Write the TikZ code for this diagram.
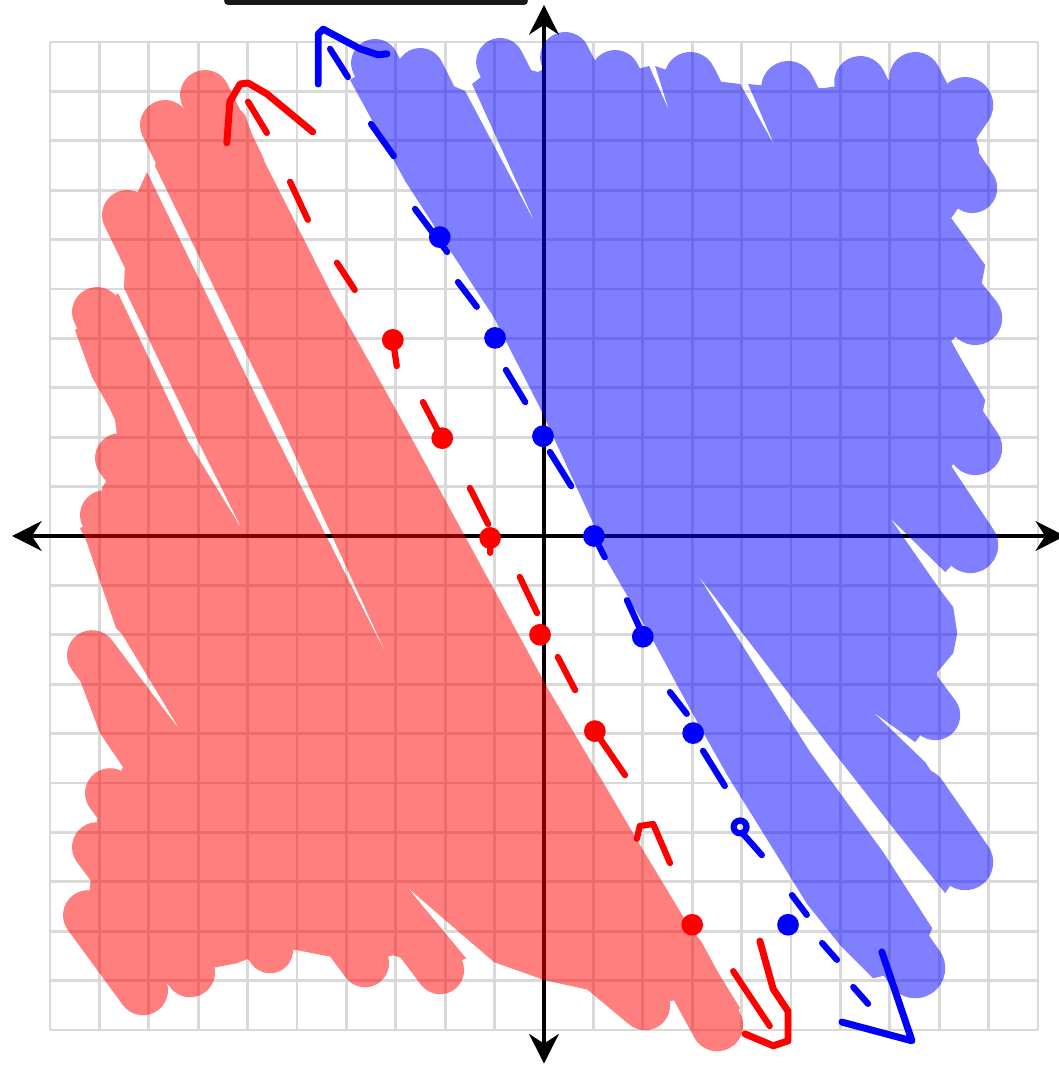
\documentclass[tikz,border=0pt]{standalone}
\usepackage{tikz}
\usetikzlibrary{arrows.meta}
\definecolor{colgrid}{RGB}{217,217,217}
\definecolor{colred}{RGB}{255,0,0}
\definecolor{colblue}{RGB}{0,0,255}
\definecolor{coldark}{RGB}{25,25,25}

\begin{document}
\begin{tikzpicture}[
  gridline/.style={colgrid, line width=1.6pt},
  axis/.style={line width=2.8pt,
               {Stealth[length=17pt, width=17pt]}-{Stealth[length=17pt, width=17pt]}},
  sketch/.style={shift={(-11.012,10.850)}, x=0.020243cm, y=-0.020243cm},
  shade/.style={sketch, transparency group, opacity=0.5},
  marker/.style={line width=#1, line cap=round},
  redpen/.style={colred, line width=3.6pt, line cap=round, line join=round},
  bluepen/.style={colblue, line width=3.6pt, line cap=round, line join=round},
  tipline/.style={line width=4pt}
]
\useasboundingbox (-11.012,-10.709) rectangle (10.425,10.850);

% Grid
\draw[gridline] (-10,-10) grid (10,10);

% Axes
\draw[axis] (-10.77,0) -- (10.55,0);
\draw[axis] (0,-10.68) -- (0,10.75);

% cut off stroke at the top edge
\draw[coldark, line width=0.15cm, line cap=round] (-6.4,10.83) -- (-0.4,10.83);

% Shading below the red line
\begin{scope}[shade]
  \fill[colred] (97,312) -- (118,293) -- (188,441) -- (243,531) -- (196,437)
    -- (124,288) -- (127,215) -- (147,172) -- (270,425) -- (389,660)
    -- (280,423) -- (155,166) -- (165,125) -- (205,95) -- (229,98)
    -- (245,115) -- (255,143) -- (333,297) -- (400,417) -- (547,687)
    -- (640,845) -- (687,923) -- (740,1008) -- (717,1025) -- (675,1000)
    -- (645,1005) -- (610,1000) -- (590,990) -- (545,980) -- (494,962)
    -- (407,887) -- (466,958) -- (440,970) -- (393,955) -- (365,963)
    -- (297,950) -- (270,950) -- (237,963) -- (190,972) -- (143,990)
    -- (88,915) -- (90,885) -- (97,847) -- (97,820) -- (110,793)
    -- (123,767) -- (100,733) -- (80,680) -- (92,655) -- (112,642)
    -- (180,730) -- (122,634) -- (116,628) -- (86,540) -- (80,528)
    -- (105,515) -- (102,488) -- (120,458) -- (115,420) -- (110,409)
    -- (92,377) -- (75,330) -- cycle;
  % marker stroke ends
  \foreach \ax/\ay/\bx/\by/\r in {97/312/132/384/25, 127/215/162/287/25,
      165/125/200/197/25, 205/95/240/167/25, 717/1025/679/955/26,
      645/1005/585/955/25, 440/970/392/906/24, 365/963/317/899/24,
      270/950/222/886/23, 190/972/142/908/25, 143/990/88/915/25,
      97/847/145/911/25, 110/793/158/857/25, 92/655/140/719/25,
      105/515/153/579/25, 120/458/168/522/25}
  {
    \pgfmathsetmacro\w{2*\r*0.020243}
    \draw[colred, marker=\w cm] (\ax,\ay) -- (\bx,\by);
  }
\end{scope}

% Shading above the blue line
\begin{scope}[shade]
  \fill[colblue] (350,80) -- (375,63) -- (420,72) -- (465,91) -- (536,225)
    -- (472,84) -- (500,62) -- (538,72) -- (565,57) -- (615,75)
    -- (649,66) -- (669,111) -- (655,66) -- (690,78) -- (740,84)
    -- (775,147) -- (748,84) -- (788,88) -- (825,88) -- (860,82)
    -- (915,78) -- (965,105) -- (979,149) -- (972,188) -- (951,218)
    -- (985,265) -- (975,318) -- (951,341) -- (961,359) -- (985,400)
    -- (975,448) -- (951,466) -- (974,502) -- (970,545) -- (945,572)
    -- (890,518) -- (940,590) -- (953,607) -- (957,633) -- (953,653)
    -- (937,672) -- (935,715) -- (915,742) -- (873,712) -- (925,762)
    -- (950,800) -- (965,862) -- (945,893) -- (897,833) -- (832,750)
    -- (697,574) -- (810,752) -- (883,852) -- (932,928) -- (915,968)
    -- (873,978) -- (840,945) -- (807,904) -- (773,849) -- (727,775)
    -- (690,709) -- (650,635) -- (607,561) -- (598,534) -- (575,484)
    -- (539,406) -- (493,316) -- (451,252) -- (405,181) -- cycle;
  % marker stroke ends
  \foreach \ax/\ay/\bx/\by/\r in {375/63/411/134/24, 420/72/456/143/24,
      500/62/536/133/24, 565/57/601/128/25, 615/75/651/146/25,
      690/78/726/149/26, 788/88/824/159/27, 860/82/896/153/26,
      915/78/951/149/26, 965/105/921/171/28, 972/188/928/122/25,
      975/318/925/256/27, 975/448/931/382/27, 970/545/926/479/28,
      935/715/887/651/25, 965/862/919/796/28, 915/968/869/902/30}
  {
    \pgfmathsetmacro\w{2*\r*0.020243}
    \draw[colblue, marker=\w cm] (\ax,\ay) -- (\bx,\by);
  }
\end{scope}

% Red dashed line y = -2x - 2
\draw[redpen, tipline] (-6.42,7.96) -- (-6.36,8.79) -- (-6.15,9.15)
  -- (-5.99,9.17) -- (-5.61,8.95) -- (-4.68,8.18);
\draw[redpen] (-5.99,8.79) -- (-5.61,8.16)
  (-5.14,7.17) -- (-4.78,6.40)
  (-4.19,5.53) -- (-3.83,4.98)
  (-3.06,3.97) -- (-2.98,3.44)
  (-2.45,2.71) -- (-2.11,2.06)
  (-1.50,0.97) -- (-1.13,0.24)
  (-1.09,-0.04) -- (-1.09,-0.34)
  (-0.49,-0.83) -- (-0.14,-1.56)
  (0.28,-2.45) -- (0.63,-3.12)
  (1.03,-3.95) -- (1.64,-4.84)
  (1.88,-6.13) -- (1.94,-5.87) -- (2.21,-5.83) -- (2.55,-6.62)
  (3.83,-8.81) -- (4.57,-9.92);
\foreach \p in {(-3.06,3.97), (-2.06,1.98), (-1.09,-0.04), (-0.08,-2.00),
    (1.03,-3.95), (3.00,-7.87)}
  \fill[colred] \p circle (0.22);
\draw[redpen, tipline] (4.37,-8.20) -- (4.64,-9.17) -- (4.94,-9.62)
  -- (4.94,-10.22) -- (4.64,-10.32) -- (4.07,-10.08);

% Blue dashed line y = -2x + 2
\draw[bluepen, tipline] (-4.57,9.15) -- (-4.57,10.16) -- (-4.47,10.26)
  -- (-3.72,9.86) -- (-3.36,9.74) -- (-3.18,9.76);
\draw[bluepen] (-4.33,9.86) -- (-3.97,9.29)
  (-3.50,8.34) -- (-3.04,7.69)
  (-2.61,6.62) -- (-1.96,5.75)
  (-1.74,5.14) -- (-1.36,4.64)
  (-0.77,3.36) -- (-0.38,2.71)
  (0.12,1.70) -- (0.55,1.01)
  (1.01,0) -- (1.23,-0.43)
  (1.68,-1.30) -- (2.00,-2.00)
  (2.55,-3.16) -- (2.89,-3.60)
  (3.22,-4.35) -- (3.66,-5.06)
  (4.03,-6.03) -- (4.41,-6.46)
  (5.02,-7.27) -- (5.32,-7.67)
  (5.63,-8.24) -- (5.93,-8.58)
  (6.26,-9.13) -- (6.56,-9.47);
\foreach \p in {(-2.11,6.05), (-0.99,4.01), (-0.02,2.02), (1.01,0),
    (2.00,-2.04), (3.02,-3.99), (4.94,-7.87)}
  \fill[colblue] \p circle (0.22);
\draw[bluepen] (3.97,-5.89) circle (0.13);
\draw[bluepen, tipline] (6.84,-8.42) -- (7.45,-10.22) -- (6.03,-9.84);
\end{tikzpicture}
\end{document}
